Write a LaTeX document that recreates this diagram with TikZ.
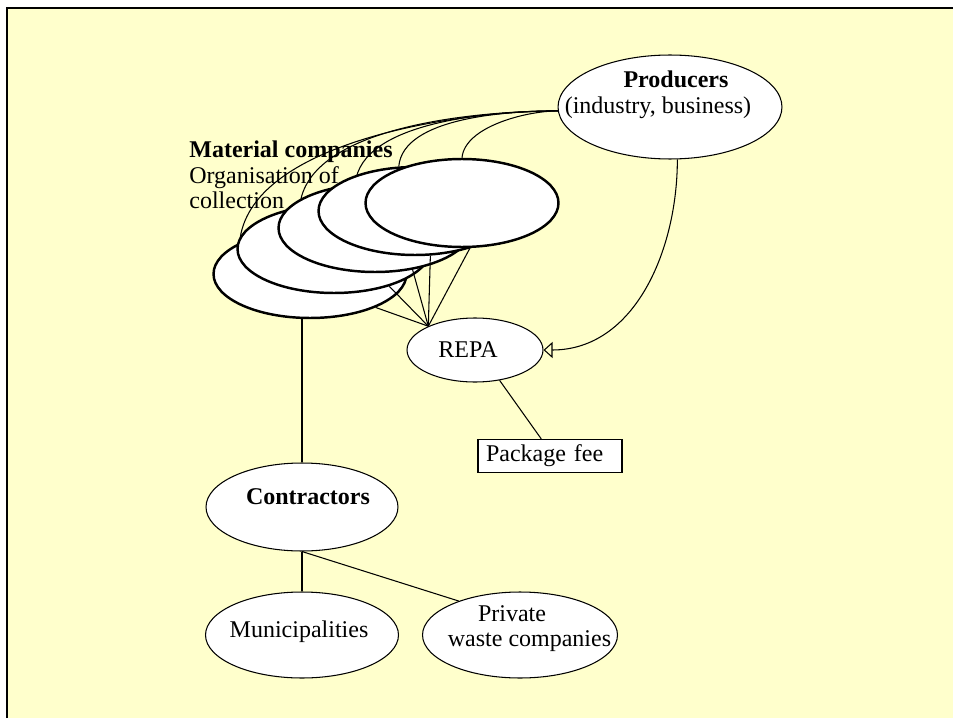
\documentclass[tikz,border=0pt]{standalone}
\usepackage{fontspec}
\setmainfont{Liberation Serif}
\usetikzlibrary{shapes.geometric,arrows.meta,calc}
\definecolor{slidebg}{RGB}{255,255,204}
\pgfdeclarelayer{bg}
\pgfdeclarelayer{links}
\pgfsetlayers{bg,links,main}

\begin{document}
\begin{tikzpicture}[x=0.02cm,y=0.02cm,
    every node/.style={font=\fontsize{13.66pt}{14.5pt}\selectfont},
    oval/.style={ellipse,draw,fill=white,line width=0.6pt,inner sep=0pt},
    matoval/.style={oval,line width=1.4pt,minimum width=3.86cm,minimum height=1.76cm},
    txt/.style={align=center,inner sep=0pt},
    link/.style={line width=0.6pt}]
    \useasboundingbox (0,0) rectangle (953,718);
    \begin{pgfonlayer}{bg}
    \fill[white] (0,0) rectangle (953,718);
    \fill[slidebg] (7,0) rectangle (953,710);
    \draw[line width=1.5pt] (7,0) -- (7,710) -- (953,710);
    \end{pgfonlayer}
    % ovals
    \node[oval,minimum width=4.48cm,minimum height=2.08cm] (prod) at (670,611) {};
    \node[matoval] (m1) at (310,444) {};
    \node[matoval] (m2) at (334,469) {};
    \node[matoval] (m3) at (375,490) {};
    \node[matoval] (m4) at (415,507) {};
    \node[matoval] (m5) at (462,515) {};
    \node[oval,minimum width=2.72cm,minimum height=1.28cm] (repa) at (475,368) {};
    \node[draw,fill=white,line width=0.6pt,text width=2.56cm,align=left,inner xsep=0.16cm,inner ysep=0pt,minimum height=0.66cm] (fee) at (550,262) {Package fee};
    \node[oval,minimum width=3.84cm,minimum height=1.76cm] (cont) at (302,211) {};
    \node[oval,minimum width=3.86cm,minimum height=1.72cm] (muni) at (302,83) {};
    \node[oval,minimum width=3.9cm,minimum height=1.72cm] (priv) at (520,83) {};
    % texts
    \node[txt] (prodtxt) at ([shift={(-12,12)}]prod.center) {\hspace*{0.72cm}\textbf{Producers}\\(industry, business)};
    \node[txt,align=left,anchor=west] (mattxt) at (189,543) {\textbf{Material companies}\\Organisation of\\collection};
    \node[txt] (repatxt) at ([shift={(-7,0)}]repa.center) {REPA};
    \node[txt] (conttxt) at ([shift={(6,10)}]cont.center) {\textbf{Contractors}};
    \node[txt] (munitxt) at ([shift={(-3,3)}]muni.center) {Municipalities};
    \node[txt] (privtxt) at ([shift={(9.5,6.5)}]priv.center) {Private\hspace*{0.7cm}\\waste companies};
    % links behind the material companies
    \begin{pgfonlayer}{links}
    \foreach \m/\a in {m1/156,m2/129,m3/114,m4/110,m5/90}
        \draw[link] (prod.182) to[out=180,in=85,looseness=0.75] (\m.\a);
    \end{pgfonlayer}
    \foreach \m/\a in {m1/-27,m2/-34,m3/-48,m4/-71,m5/-80}
        \draw[link] (repa.153) -- (\m.\a);
    \draw[link] (m1.south -| cont.north) -- (cont.north);
    \draw[link] (repa.-51) -- ($(fee.north west)!0.44!(fee.north east)$);
    \draw[link,-{Triangle[open,length=0.18cm,width=0.32cm]}] (prod.-82) to[out=-90,in=0] (repa.east);
    \draw[link] (cont.south) -- (muni.north);
    \draw[link] (cont.south) -- (priv.151);
\end{tikzpicture}
\end{document}
